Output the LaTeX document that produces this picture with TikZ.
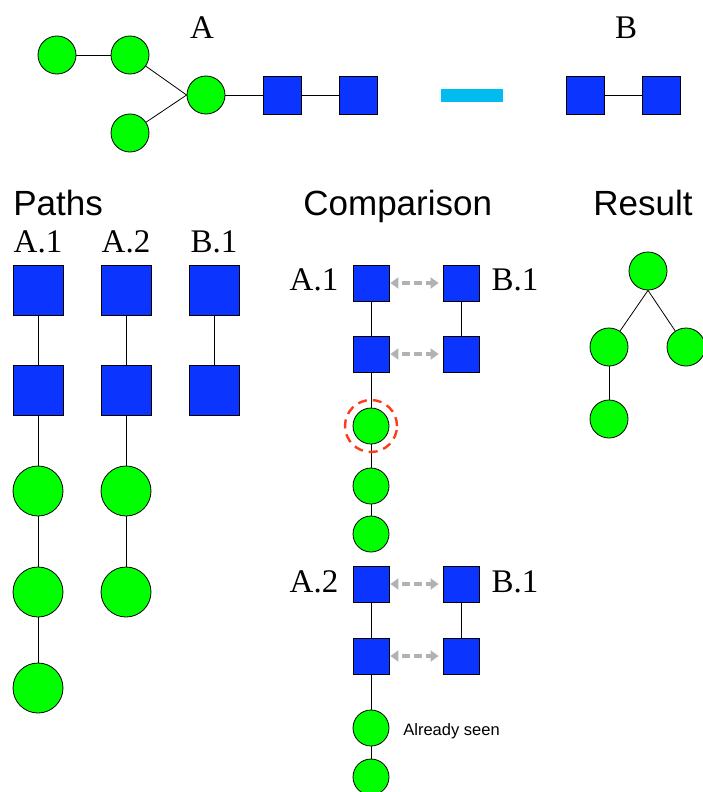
\documentclass[tikz,border=0pt]{standalone}
\usepackage{fontspec}
\setmainfont{Liberation Serif}
\setsansfont{Liberation Sans}
\usetikzlibrary{arrows.meta}
\definecolor{nodegreen}{RGB}{0,255,0}
\definecolor{nodeblue}{RGB}{11,52,255}
\definecolor{barcyan}{RGB}{0,187,240}
\definecolor{arrgray}{RGB}{178,178,178}
\definecolor{markred}{RGB}{255,59,26}
\begin{document}
\begin{tikzpicture}[x=1pt,y=-1pt,line width=0.8pt,
	gal/.style={circle,draw,fill=nodegreen,inner sep=0,minimum size=#1},
	gal/.default=38pt,
	sq/.style={rectangle,draw,fill=nodeblue,inner sep=0,minimum size=#1},
	sq/.default=38pt,
	lbl/.style={inner sep=0,anchor=base,font=\fontsize{33}{33}\selectfont},
	ttl/.style={inner sep=0,anchor=base west,font=\sffamily\fontsize{35}{35}\selectfont},
	cmp/.style={draw=arrgray,line width=4pt,dash pattern=on 8pt off 4pt,dash phase=8pt,
		{Triangle[length=8pt,width=11pt]}-{Triangle[length=8pt,width=11pt]},
		shorten <=1pt,shorten >=4pt}]
	\useasboundingbox (0,0) rectangle (702,792);
	% glycan A and glycan B
	\node[lbl] (la) at (202,39) {A};
	\node[lbl] (lb) at (626,39) {B};
	\node[gal] (a1) at (57,55) {};
	\node[gal] (a2) at (130,55) {};
	\node[gal] (a3) at (130,133) {};
	\node[gal] (a4) at (206,95) {};
	\node[sq] (as1) at (282,95) {};
	\node[sq] (as2) at (358,95) {};
	\draw (a1) -- (a2);
	\draw (a2) -- (a4.west);
	\draw (a3) -- (a4.west);
	\draw (a4) -- (as1) -- (as2);
	\node[fill=barcyan,inner sep=0,minimum width=62pt,minimum height=13pt] (minus) at (472,95) {};
	\node[sq] (b1) at (585,95) {};
	\node[sq] (b2) at (661,95) {};
	\draw (b1) -- (b2);

	% paths
	\node[ttl] (tpaths) at (13,215) {Paths};
	\node[lbl] (pa1) at (38,252) {A.1};
	\node[lbl] (pa2) at (126,252) {A.2};
	\node[lbl] (pb1) at (214,252) {B.1};
	\node[sq=50pt] (p11) at (38,290) {};
	\node[sq=50pt] (p12) at (38,390) {};
	\node[gal=50pt] (p13) at (38,491) {};
	\node[gal=50pt] (p14) at (38,592) {};
	\node[gal=50pt] (p15) at (38,688) {};
	\draw (p11) -- (p12) -- (p13) -- (p14) -- (p15);
	\node[sq=50pt] (p21) at (126,290) {};
	\node[sq=50pt] (p22) at (126,390) {};
	\node[gal=50pt] (p23) at (126,491) {};
	\node[gal=50pt] (p24) at (126,592) {};
	\draw (p21) -- (p22) -- (p23) -- (p24);
	\node[sq=50pt] (p31) at (214,290) {};
	\node[sq=50pt] (p32) at (214,390) {};
	\draw (p31) -- (p32);

	% comparison of A.1 with B.1
	\node[ttl] (tcomp) at (303,215) {Comparison};
	\node[lbl] (ca1) at (314,290) {A.1};
	\node[lbl] (cb1) at (515,290) {B.1};
	\node[sq=36pt] (c11) at (371,283) {};
	\node[sq=36pt] (c12) at (371,354) {};
	\node[gal=36pt] (c13) at (371,426) {};
	\node[gal=36pt] (c14) at (371,486) {};
	\node[gal=36pt] (c15) at (371,534) {};
	\draw (c11) -- (c12) -- (c13) -- (c14) -- (c15);
	\node[sq=36pt] (d11) at (461,283) {};
	\node[sq=36pt] (d12) at (461,354) {};
	\draw (d11) -- (d12);
	\draw[cmp] (c11) -- (d11);
	\draw[cmp] (c12) -- (d12);
	\node[circle,draw=markred,line width=2.4pt,dash pattern=on 9pt off 6pt,minimum size=52pt] (miss) at (c13) {};

	% comparison of A.2 with B.1
	\node[lbl] (ca2) at (314,592) {A.2};
	\node[lbl] (cb2) at (515,592) {B.1};
	\node[sq=36pt] (c21) at (371,584) {};
	\node[sq=36pt] (c22) at (371,656) {};
	\node[gal=36pt] (c23) at (371,728) {};
	\node[gal=36pt] (c24) at (371,777) {};
	\draw (c21) -- (c22) -- (c23) -- (c24);
	\node[sq=36pt] (d21) at (461,584) {};
	\node[sq=36pt] (d22) at (461,656) {};
	\draw (d21) -- (d22);
	\draw[cmp] (c21) -- (d21);
	\draw[cmp] (c22) -- (d22);
	\node[inner sep=0,anchor=base west,font=\sffamily\fontsize{16.5}{16.5}\selectfont] (seen) at (403,735) {Already seen};

	% result
	\node[ttl] (tres) at (593,215) {Result};
	\node[gal] (r1) at (648,271) {};
	\node[gal] (r2) at (609,347) {};
	\node[gal] (r3) at (686,347) {};
	\node[gal] (r4) at (609,419) {};
	\draw (r1.south) -- (r2);
	\draw (r1.south) -- (r3);
	\draw (r2) -- (r4);
\end{tikzpicture}
\end{document}
